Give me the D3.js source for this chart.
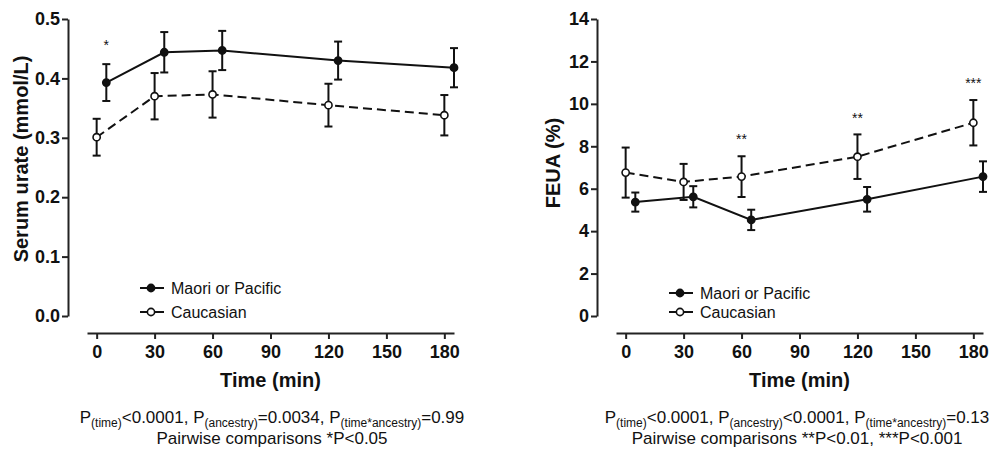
<!DOCTYPE html>
<html>
<head>
<meta charset="utf-8">
<script src="https://cdn.jsdelivr.net/npm/d3@7"></script>
<style>
  body { margin: 0; background: #fff; }
  svg text { font-family: Arial, "Liberation Sans", sans-serif; fill: #111; }
</style>
</head>
<body>
<svg id="chart" width="995" height="450"></svg>
<script>
// ---- data ----
const tickTimes = [0, 30, 60, 90, 120, 150, 180];
const caucTimes = [0, 30, 60, 120, 180];
const maoriTimes = [5, 35, 65, 125, 185];
const seriesNames = ["Maori or Pacific", "Caucasian"];

// serum urate (mmol/L)
const urateTicks = [0.0, 0.1, 0.2, 0.3, 0.4, 0.5];
const urateMaori = [0.393, 0.444, 0.447, 0.430, 0.418];
const urateMaoriErr = [0.031, 0.034, 0.033, 0.032, 0.033];
const urateCauc = [0.301, 0.370, 0.373, 0.355, 0.338];
const urateCaucErr = [0.031, 0.039, 0.039, 0.036, 0.034];
const urateStars = [{ t: 5, v: 0.461, s: "*" }];

// FEUA (%)
const feuaTicks = [0, 2, 4, 6, 8, 10, 12, 14];
const feuaMaori = [5.37, 5.62, 4.53, 5.50, 6.57];
const feuaMaoriErr = [0.45, 0.50, 0.48, 0.58, 0.72];
const feuaCauc = [6.76, 6.32, 6.57, 7.51, 9.11];
const feuaCaucErr = [1.18, 0.85, 0.96, 1.05, 1.07];
const feuaStars = [
  { t: 60, v: 8.49, s: "**" },
  { t: 120, v: 9.48, s: "**" },
  { t: 180, v: 11.13, s: "***" }
];

const svg = d3.select("#chart");

function createPanel(opts) {
  const x = d3.scaleLinear().domain([-5, 185]).range([opts.axisX + 19, opts.axisX + 386]);
  const y = d3.scaleLinear().domain([0, opts.yMax]).range([316, 19]);
  const g = svg.append("g");

  // y axis
  const yAxis = g.append("g")
    .attr("transform", `translate(${opts.axisX},0)`)
    .call(d3.axisLeft(y).tickValues(opts.yTicks).tickSize(6).tickSizeOuter(0)
      .tickPadding(2).tickFormat(opts.yFormat));
  // x axis
  const xAxis = g.append("g")
    .attr("transform", "translate(0,333)")
    .call(d3.axisBottom(x).tickValues(tickTimes).tickSize(6).tickSizeOuter(0).tickPadding(6));
  [yAxis, xAxis].forEach(a => {
    a.select(".domain").attr("stroke", "#222").attr("stroke-width", 2);
    a.selectAll(".tick line").attr("stroke", "#222").attr("stroke-width", 2);
    a.selectAll(".tick text").attr("font-size", 18).attr("font-weight", "bold")
      .attr("font-family", "Arial, 'Liberation Sans', sans-serif").attr("fill", "#111");
  });

  g.append("text")
    .attr("transform", `translate(${opts.axisX - opts.yLabelOffset},${opts.yLabelY}) rotate(-90)`)
    .attr("text-anchor", "middle")
    .attr("dominant-baseline", "middle")
    .attr("font-size", 20).attr("font-weight", "bold")
    .text(opts.yLabel);

  g.append("text")
    .attr("x", (x(0) + x(180)) / 2).attr("y", 387)
    .attr("text-anchor", "middle")
    .attr("font-size", 20).attr("font-weight", "bold")
    .text("Time (min)");

  const series = [
    { times: maoriTimes, vals: opts.maori, err: opts.maoriErr, fill: "#111", dash: null },
    { times: caucTimes, vals: opts.cauc, err: opts.caucErr, fill: "#fff", dash: "9,5" }
  ];

  series.forEach(s => {
    const pts = s.times.map((t, i) => ({ t: t, v: s.vals[i], e: s.err[i] }));
    g.append("path")
      .datum(pts)
      .attr("fill", "none")
      .attr("stroke", "#111")
      .attr("stroke-width", 2)
      .attr("stroke-dasharray", s.dash)
      .attr("d", d3.line().x(d => x(d.t)).y(d => y(d.v)));

    const eb = g.append("g").selectAll("g").data(pts).join("g");
    eb.append("line")
      .attr("x1", d => x(d.t)).attr("x2", d => x(d.t))
      .attr("y1", d => y(d.v + d.e)).attr("y2", d => y(d.v - d.e))
      .attr("stroke", "#111").attr("stroke-width", 2);
    [1, -1].forEach(sign => {
      eb.append("line")
        .attr("x1", d => x(d.t) - 4).attr("x2", d => x(d.t) + 4)
        .attr("y1", d => y(d.v + sign * d.e)).attr("y2", d => y(d.v + sign * d.e))
        .attr("stroke", "#111").attr("stroke-width", 2);
    });
    eb.append("circle")
      .attr("cx", d => x(d.t)).attr("cy", d => y(d.v))
      .attr("r", 3.6)
      .attr("fill", s.fill).attr("stroke", "#111").attr("stroke-width", 1.6);
  });

  // significance stars
  g.selectAll(".star").data(opts.stars).join("text")
    .attr("x", d => x(d.t)).attr("y", d => y(d.v) + 8)
    .attr("text-anchor", "middle")
    .attr("font-size", 14)
    .text(d => d.s);

  // legend
  const leg = g.append("g").selectAll("g").data(seriesNames).join("g")
    .attr("transform", (d, i) => `translate(${opts.axisX + 72},${opts.legendY[i]})`);
  leg.append("line").attr("x1", 0).attr("x2", 24).attr("stroke", "#111").attr("stroke-width", 2);
  leg.append("circle").attr("cx", 11).attr("r", 3.6)
    .attr("fill", (d, i) => i === 0 ? "#111" : "#fff")
    .attr("stroke", "#111").attr("stroke-width", 1.6);
  leg.append("text").attr("x", 31).attr("dy", "0.35em").attr("font-size", 16).text(d => d);

  // p-value notes (subscripts shifted down, then back up)
  const note = g.append("text")
    .attr("x", opts.noteX).attr("y", 423)
    .attr("text-anchor", "middle")
    .attr("font-size", 17);
  let shift = 0;
  opts.note.forEach(part => {
    if (part.sub) {
      note.append("tspan").attr("font-size", 12).attr("dy", 4 - shift).text(part.sub);
      shift = 4;
    } else {
      note.append("tspan").attr("dy", -shift).text(part.txt);
      shift = 0;
    }
  });
  g.append("text")
    .attr("x", opts.noteX).attr("y", 444)
    .attr("text-anchor", "middle")
    .attr("font-size", 17)
    .text(opts.note2);
}

createPanel({
  axisX: 68, yMax: 0.5, yTicks: urateTicks, yFormat: d3.format(".1f"),
  yLabel: "Serum urate (mmol/L)", yLabelOffset: 45, yLabelY: 159,
  maori: urateMaori, maoriErr: urateMaoriErr, cauc: urateCauc, caucErr: urateCaucErr,
  stars: urateStars, legendY: [288, 312], noteX: 272,
  note: [{ txt: "P" }, { sub: "(time)" }, { txt: "<0.0001, P" }, { sub: "(ancestry)" },
         { txt: "=0.0034, P" }, { sub: "(time*ancestry)" }, { txt: "=0.99" }],
  note2: "Pairwise comparisons *P<0.05"
});

createPanel({
  axisX: 597, yMax: 14, yTicks: feuaTicks, yFormat: d3.format("d"),
  yLabel: "FEUA (%)", yLabelOffset: 42, yLabelY: 163,
  maori: feuaMaori, maoriErr: feuaMaoriErr, cauc: feuaCauc, caucErr: feuaCaucErr,
  stars: feuaStars, legendY: [293, 312], noteX: 797,
  note: [{ txt: "P" }, { sub: "(time)" }, { txt: "<0.0001, P" }, { sub: "(ancestry)" },
         { txt: "<0.0001, P" }, { sub: "(time*ancestry)" }, { txt: "=0.13" }],
  note2: "Pairwise comparisons **P<0.01, ***P<0.001"
});
</script>
</body>
</html>
